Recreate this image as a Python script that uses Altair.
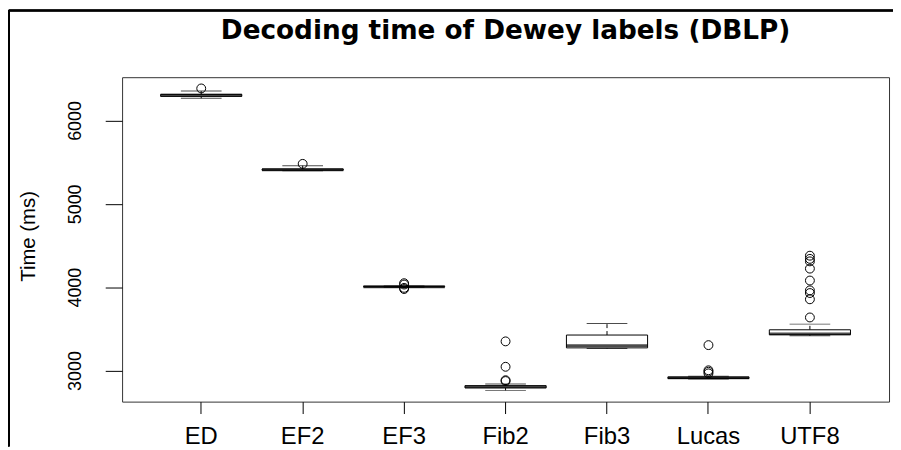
import altair as alt
import pandas as pd

# ---- data ----
categories = ["ED", "EF2", "EF3", "Fib2", "Fib3", "Lucas", "UTF8"]
lower_whisker = [6268, 5398, 3998, 2762, 3265, 2898, 3418]
q1 = [6290, 5403, 4002, 2792, 3272, 2905, 3430]
median = [6302, 5410, 4006, 2806, 3299, 2913, 3440]
q3 = [6314, 5418, 4010, 2818, 3426, 2921, 3489]
upper_whisker = [6353, 5458, 4014, 2838, 3565, 2932, 3557]

outliers_ED = [6385]
outliers_EF2 = [5480]
outliers_EF3 = [4048, 4032, 3992, 3978]
outliers_Fib2 = [3350, 3045, 2884, 2874]
outliers_Fib3 = []
outliers_Lucas = [3305, 3003, 2986, 2966]
outliers_UTF8 = [4378, 4340, 4310, 4223, 4080, 3962, 3930, 3855, 3637]

y_ticks = [3000, 4000, 5000, 6000]
y_domain = [2627, 6520]

summary = pd.DataFrame({
    "cat": categories,
    "lower": lower_whisker,
    "q1": q1,
    "median": median,
    "q3": q3,
    "upper": upper_whisker,
})

out_lists = [outliers_ED, outliers_EF2, outliers_EF3, outliers_Fib2,
             outliers_Fib3, outliers_Lucas, outliers_UTF8]
outliers = pd.DataFrame(
    [{"cat": c, "value": v} for c, vals in zip(categories, out_lists) for v in vals]
)

W, H = 773, 327
PAD = {"left": 115, "top": 68, "right": 4, "bottom": 45}

x_scale = alt.Scale(domain=categories, paddingInner=0.2, paddingOuter=0.38)
y_scale = alt.Scale(domain=y_domain, nice=False, zero=False)

x_axis = alt.Axis(
    title=None, domain=False, grid=False, bandPosition=0.5,
    tickSize=12, tickColor="black", tickWidth=1,
    labelFont="Liberation Sans", labelFontSize=24, labelColor="black",
    labelAngle=0, labelBaseline="alphabetic", labelPadding=30.5,
)
y_axis = alt.Axis(
    title="Time (ms)", values=y_ticks, format="d", domain=False, grid=False,
    tickSize=17, tickColor="black", tickWidth=1,
    labelFont="Liberation Sans", labelFontSize=18, labelColor="black",
    labelAngle=270, labelAlign="center", labelBaseline="alphabetic",
    labelPadding=24.7,
    titleFont="Liberation Sans", titleFontSize=20.5, titleFontWeight="normal",
    titleColor="black", titleAngle=270, titleAlign="center",
    titleBaseline="alphabetic", titleX=-88, titleY=160,
)

X = alt.X("cat:N", scale=x_scale, axis=x_axis, sort=categories)

base = alt.Chart(summary)

whisk_hi = base.mark_rule(color="black", strokeWidth=1, strokeDash=[4, 3]).encode(
    x=X, y=alt.Y("q3:Q", scale=y_scale, axis=y_axis), y2="upper:Q")
whisk_lo = base.mark_rule(color="black", strokeWidth=1, strokeDash=[4, 3]).encode(
    x=X, y=alt.Y("lower:Q", scale=y_scale), y2="q1:Q")
box = base.mark_bar(fill="white", stroke="black", strokeWidth=1).encode(
    x=X, y=alt.Y("q1:Q", scale=y_scale), y2="q3:Q")
med = base.mark_tick(color="black", thickness=3, size=82).encode(
    x=X, y=alt.Y("median:Q", scale=y_scale))
cap_hi = base.mark_tick(color="black", thickness=1, size=41).encode(
    x=X, y=alt.Y("upper:Q", scale=y_scale))
cap_lo = base.mark_tick(color="black", thickness=1, size=41).encode(
    x=X, y=alt.Y("lower:Q", scale=y_scale))
pts = alt.Chart(outliers).mark_point(
    shape="circle", filled=False, stroke="black", strokeWidth=1, size=80, opacity=1
).encode(x=X, y=alt.Y("value:Q", scale=y_scale))

# figure frame (left and top edge of the original picture)
frame_left = alt.Chart(summary).mark_rule(color="black", strokeWidth=1.6).encode(
    x=alt.value(-114.2), y=alt.value(-67.2), y2=alt.value(H + PAD["bottom"]))
frame_top = alt.Chart(summary).mark_rule(color="black", strokeWidth=1.6).encode(
    x=alt.value(-114.2), x2=alt.value(W + PAD["right"]), y=alt.value(-67.2))

chart = alt.layer(
    whisk_hi, whisk_lo, box, med, cap_hi, cap_lo, pts, frame_left, frame_top
).properties(
    width=W, height=H,
    title=alt.TitleParams(
        "Decoding time of Dewey labels (DBLP)",
        font="DejaVu Sans", fontSize=26.5, fontWeight="bold", color="black",
        anchor="middle", baseline="alphabetic", offset=-56.3,
    ),
    autosize=alt.AutoSizeParams(type="none"),
    padding=PAD,
    background="white",
).configure_view(
    stroke="#333333", strokeWidth=1
)

chart.save("out.html", embed_options={"renderer": "svg", "actions": False})
